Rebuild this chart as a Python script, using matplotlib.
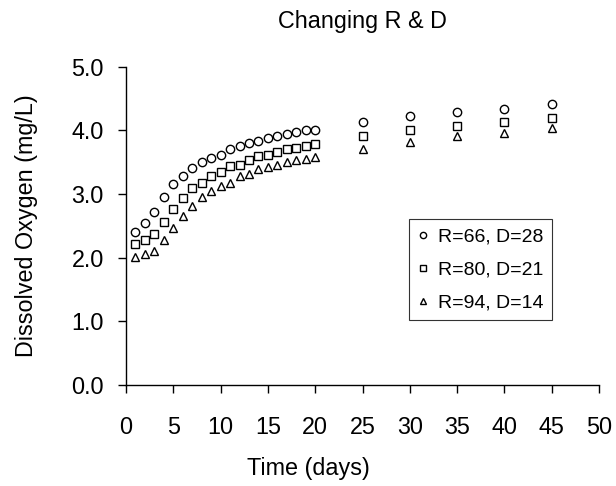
import matplotlib
matplotlib.use("Agg")
import matplotlib.pyplot as plt

plt.rcParams['font.family'] = ['Liberation Sans', 'DejaVu Sans']

days = [1, 2, 3, 4, 5, 6, 7, 8, 9, 10, 11, 12, 13, 14, 15, 16, 17, 18, 19, 20,
        25, 30, 35, 40, 45]

do_r66 = [2.41, 2.54, 2.71, 2.95, 3.16, 3.29, 3.41, 3.51, 3.57, 3.62,
          3.70, 3.76, 3.80, 3.83, 3.88, 3.91, 3.95, 3.98, 4.01, 4.01,
          4.13, 4.23, 4.29, 4.34, 4.42]
do_r80 = [2.22, 2.28, 2.37, 2.56, 2.77, 2.94, 3.10, 3.18, 3.28, 3.34,
          3.44, 3.46, 3.54, 3.59, 3.62, 3.66, 3.70, 3.73, 3.75, 3.79,
          3.91, 4.00, 4.07, 4.13, 4.19]
do_r94 = [2.01, 2.06, 2.11, 2.27, 2.46, 2.66, 2.81, 2.96, 3.05, 3.13,
          3.18, 3.28, 3.32, 3.39, 3.42, 3.46, 3.50, 3.53, 3.55, 3.58,
          3.71, 3.82, 3.91, 3.96, 4.03]

labels = ["R=66, D=28", "R=80, D=21", "R=94, D=14"]
markers = ["o", "s", "^"]

W, H = 616, 486
fs = 16.8

fig = plt.figure(figsize=(W / 100, H / 100), dpi=100)
ax = fig.add_axes([126 / W, 1 - 385 / H, (599 - 126) / W, (385 - 66.7) / H])

for vals, lab, m in zip([do_r66, do_r80, do_r94], labels, markers):
    ax.plot(days, vals, linestyle="none", marker=m, markersize=6,
            markerfacecolor="white", markeredgecolor="black",
            markeredgewidth=1.0, label=lab)

ax.set_xlim(0, 50)
ax.set_ylim(0, 5)
ax.set_xticks(range(0, 51, 5))
ax.set_yticks([0, 1, 2, 3, 4, 5])
ax.set_yticklabels([f"{v:.1f}" for v in range(6)])
ax.tick_params(direction="out", length=6, width=1, labelsize=fs)
ax.tick_params(axis="y", pad=10)
ax.tick_params(axis="x", pad=16)
for s in ["top", "right"]:
    ax.spines[s].set_visible(False)
ax.spines["left"].set_linewidth(1)
ax.spines["bottom"].set_linewidth(1)

ax.set_xlabel("Time (days)", fontsize=fs, va="baseline")
ax.xaxis.set_label_coords(0.5, 1 - 475 / H, transform=fig.transFigure)
ax.set_ylabel("Dissolved Oxygen (mg/L)", fontsize=fs, va="bottom")
ax.yaxis.set_label_coords(38 / W, 1 - 226 / H, transform=fig.transFigure)

# title sits centred over the axes
fig.text(362.5 / W, 1 - 28.3 / H, "Changing R & D", fontsize=fs,
         ha="center", va="baseline")

leg = ax.legend(loc="upper left", bbox_to_anchor=(409 / W, 1 - 219 / H),
                bbox_transform=fig.transFigure, fontsize=14, markerscale=0.75,
                borderaxespad=0, handletextpad=0.53, handlelength=0.5,
                borderpad=0.45, labelspacing=0.8, fancybox=False,
                framealpha=1)
leg.get_frame().set_edgecolor("#333333")
leg.get_frame().set_linewidth(0.8)

fig.savefig("out.png", dpi=100)
